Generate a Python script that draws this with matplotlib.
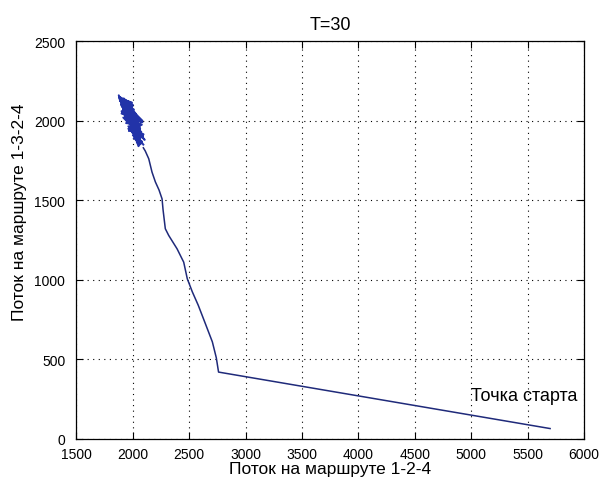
import matplotlib
matplotlib.use("Agg")
import matplotlib.pyplot as plt

plt.rcParams['font.family'] = ['Liberation Sans', 'DejaVu Sans']

# trajectory from the starting point up to the settling region
path_x = [5700, 2760, 2740, 2705, 2640, 2580, 2527, 2500, 2483, 2451, 2392,
          2318, 2288, 2278, 2268, 2259, 2232, 2200, 2170, 2141, 2110, 2093]
path_y = [65, 420, 510, 610, 730, 840, 925, 975, 1006, 1111, 1195,
          1279, 1321, 1380, 1440, 1509, 1565, 1615, 1677, 1761, 1810, 1830]

# oscillations around the equilibrium
blob_x = [2093, 2040, 2075, 1990, 2060, 1960, 2085, 1985, 2040, 1930, 2010,
          1905, 2050, 1950, 1990, 1880, 1960, 1920, 2030, 1900, 1975, 2065,
          1945, 2000, 1895, 1940, 2020, 1915, 1985, 2070, 1960, 2010, 2045,
          1970, 2090, 2020, 2060, 2000, 2080, 2050, 1935, 1975, 1890, 2005,
          1925, 2035, 1955, 2070, 1985, 2025, 1910, 1950, 1875, 1965, 2015,
          1945, 2055, 1995, 2105, 2030, 2075, 2010, 2045, 1985, 1920, 2000,
          1885, 1970, 1900, 2040, 1940, 2080, 1965, 2030, 1950, 2060, 1995,
          2085, 2015, 2070, 1980, 2050, 1925, 1990, 1880, 1955, 1910, 2025,
          1960, 2065, 2000, 2095, 2035, 2070, 2010]
blob_y = [1850, 1900, 1930, 1980, 1960, 2060, 1990, 2020, 1940, 2090, 2070,
          2120, 2010, 2030, 2110, 2150, 2080, 2140, 2040, 2060, 1990, 1950,
          2000, 2100, 2100, 2050, 2000, 2020, 1970, 1900, 1950, 1920, 1880,
          1990, 1900, 1960, 1870, 1910, 1870, 1840, 2070, 2040, 2130, 1990,
          2110, 1970, 2060, 1920, 2010, 1940, 2090, 2000, 2160, 2030, 1950,
          2080, 1915, 1975, 1880, 1935, 1860, 1960, 1900, 2005, 2075, 2055,
          2125, 2095, 2045, 2025, 1985, 1975, 1935, 1990, 2020, 1945, 1925,
          2000, 2050, 1905, 2065, 1985, 2090, 2115, 2140, 2030, 2060, 1955,
          1965, 1895, 1945, 1915, 1865, 1855, 1890]

x_ticks = [1500, 2000, 2500, 3000, 3500, 4000, 4500, 5000, 5500, 6000]
y_ticks = [0, 500, 1000, 1500, 2000, 2500]

fig = plt.figure(figsize=(6.02, 4.85), dpi=100)
ax = fig.add_axes([0.127, 0.093, 0.843, 0.820])

ax.plot(path_x, path_y, color='#1f2a7a', linewidth=1.1)
ax.plot(blob_x, blob_y, color='#2233a8', linewidth=1.4)

ax.set_xlim(1500, 6000)
ax.set_ylim(0, 2500)
ax.set_xticks(x_ticks)
ax.set_yticks(y_ticks)
ax.tick_params(axis='both', direction='in', top=True, right=True, length=5,
               labelsize=10, width=0.8)
ax.tick_params(axis='x', pad=6)
ax.tick_params(axis='y', pad=8)
ax.grid(True, color='black', linestyle=(0, (1, 4)), linewidth=0.8)
for sp in ax.spines.values():
    sp.set_linewidth(0.9)

ax.text(5000, 270, 'Точка старта', fontsize=13, ha='left', va='center')

ax.set_title('T=30', fontsize=13, pad=9)
ax.set_xlabel('Поток на маршруте 1-2-4', fontsize=12.5, labelpad=0)
ax.set_ylabel('Поток на маршруте 1-3-2-4', fontsize=12.5, labelpad=4)
ax.yaxis.set_label_coords(-0.097, 0.573)

fig.savefig('out.png', dpi=100)
